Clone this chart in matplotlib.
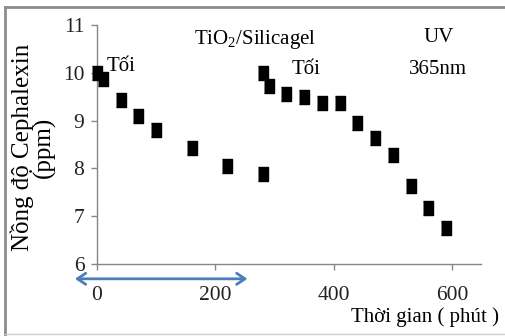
import matplotlib
matplotlib.use('Agg')
import matplotlib.pyplot as plt
from matplotlib.lines import Line2D

plt.rcParams['font.family'] = ['Liberation Serif', 'DejaVu Serif']
plt.rcParams['mathtext.fontset'] = 'custom'
plt.rcParams['mathtext.rm'] = 'Liberation Serif'

# time (minutes) and Cephalexin concentration (ppm)
time_min = [0, 10, 40, 70, 100, 160, 220, 280,
            280, 290, 320, 350, 380, 410, 440, 470, 500, 530, 560, 590]
conc_ppm = [10.0, 9.87, 9.44, 9.1, 8.8, 8.43, 8.04, 7.89,
            10.0, 9.72, 9.55, 9.5, 9.37, 9.37, 8.95, 8.63, 8.27, 7.63, 7.18, 6.75]

x_ticks = [0, 200, 400, 600]
y_ticks = [6, 7, 8, 9, 10, 11]

axis_grey = '#868686'
arrow_blue = '#4a7ebb'

fig = plt.figure(figsize=(5.05, 3.36), dpi=100)
ax = fig.add_axes([97 / 505, 72 / 336, 384 / 505, 239 / 336])

# slightly tall square markers like the original
box = [(-0.385, -0.5), (0.385, -0.5), (0.385, 0.5), (-0.385, 0.5)]
ax.plot(time_min, conc_ppm, linestyle='none', marker=box, markersize=9.4,
        color='black', clip_on=False, zorder=3)

ax.set_xlim(0, 649)
ax.set_ylim(6, 11)
ax.set_xticks(x_ticks)
ax.set_yticks(y_ticks)

for side in ['top', 'right']:
    ax.spines[side].set_visible(False)
for side in ['left', 'bottom']:
    ax.spines[side].set_color(axis_grey)
    ax.spines[side].set_linewidth(1.0)
ax.tick_params(axis='both', direction='out', length=4, width=1.0,
               color=axis_grey, labelsize=15.5, labelcolor='#222222')
ax.tick_params(axis='x', pad=12)
ax.tick_params(axis='y', pad=5)

fig.text(33 / 505, 1 - 147 / 336, 'Nồng độ Cephalexin\n(ppm)', fontsize=18,
         rotation=90, ha='center', va='center', linespacing=0.95)
fig.text(499 / 505, (336 - 317) / 336, 'Thời gian ( phút )', fontsize=15,
         ha='right', va='center')

# annotations inside the plot
ax.text(17, 10.14, 'Tối', fontsize=15, ha='left', va='center')
ax.text(267, 10.69, r'TiO$_\mathregular{2}$/Silicagel', fontsize=15,
        ha='center', va='center')
ax.text(353, 10.06, 'Tối', fontsize=15, ha='center', va='center')
ax.text(577, 10.73, 'UV', fontsize=15, ha='center', va='center')
ax.text(577, 10.06, '365nm', fontsize=15, ha='center', va='center')

# blue double arrow under the dark period
ax.annotate('', xy=(-42, 5.69), xytext=(259, 5.69), xycoords='data',
            annotation_clip=False,
            arrowprops=dict(arrowstyle='<->,head_length=0.6,head_width=0.4',
                            color=arrow_blue, lw=2))

# chart border
border = '#8c8c8c'
fig.add_artist(Line2D([5 / 505, 1], [1 - 7 / 336, 1 - 7 / 336],
                      transform=fig.transFigure, color=border, lw=2))
fig.add_artist(Line2D([5 / 505, 5 / 505], [1 / 336, 1 - 7 / 336],
                      transform=fig.transFigure, color=border, lw=2))
fig.add_artist(Line2D([5 / 505, 1], [2 / 336, 2 / 336],
                      transform=fig.transFigure, color='#d0d0d0', lw=1))

fig.savefig('out.png', dpi=100)
